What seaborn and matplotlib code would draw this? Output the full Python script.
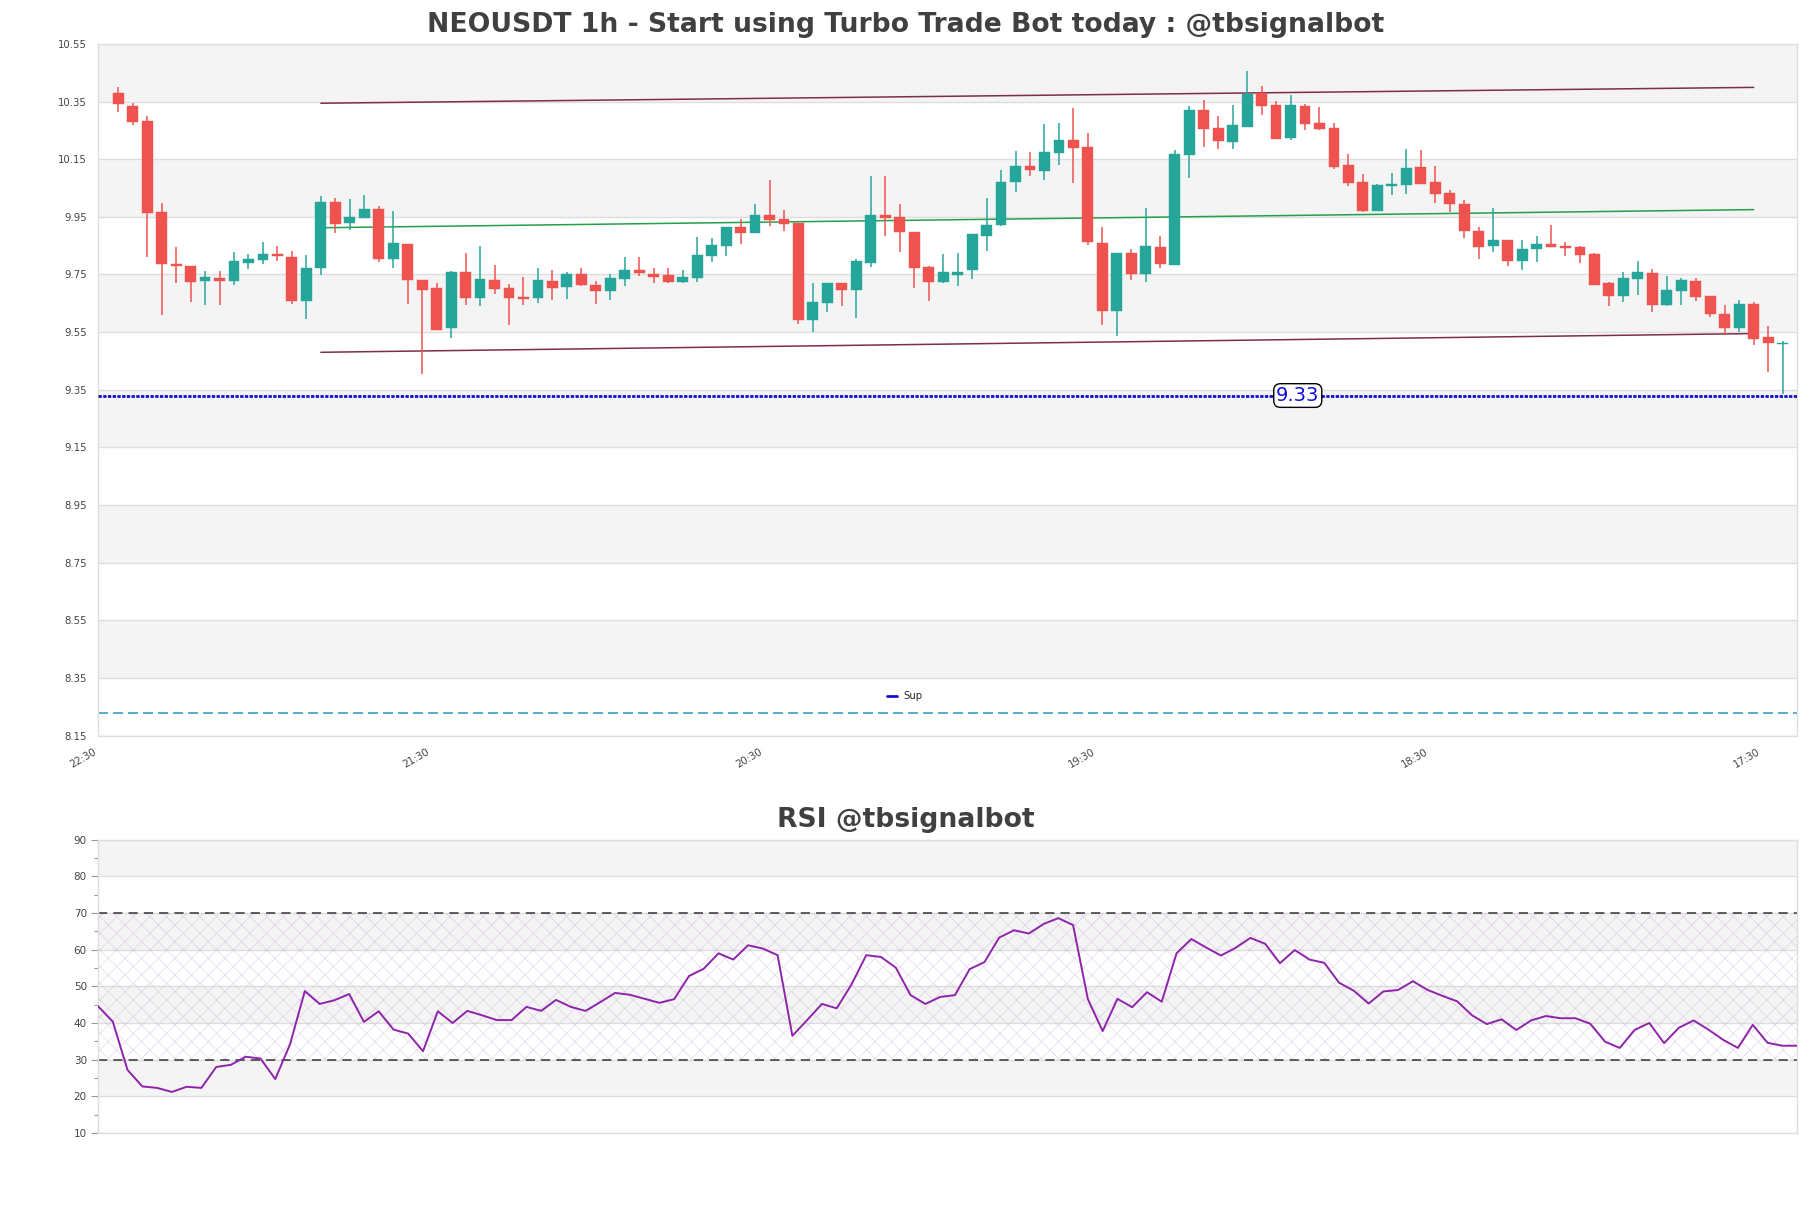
import numpy as np
import pandas as pd
import matplotlib
matplotlib.use("Agg")
import matplotlib.pyplot as plt
import seaborn as sns

# ---------------- data ----------------
opens = [10.379, 10.336, 10.283, 9.965, 9.788, 9.780, 9.726, 9.738, 9.726, 9.789,
         9.799, 9.822, 9.809, 9.657, 9.774, 10.003, 9.928, 9.945, 9.977, 9.805,
         9.855, 9.732, 9.702, 9.563, 9.758, 9.667, 9.732, 9.702, 9.671, 9.667,
         9.727, 9.706, 9.753, 9.715, 9.692, 9.734, 9.767, 9.753, 9.747, 9.723,
         9.737, 9.814, 9.848, 9.913, 9.893, 9.955, 9.941, 9.927, 9.592, 9.651,
         9.719, 9.696, 9.789, 9.955, 9.948, 9.899, 9.775, 9.723, 9.748, 9.764,
         9.885, 9.921, 10.071, 10.125, 10.109, 10.172, 10.217, 10.191, 9.858, 9.622,
         9.823, 9.750, 9.844, 9.782, 10.165, 10.320, 10.257, 10.210, 10.261, 10.379,
         10.337, 10.224, 10.334, 10.275, 10.257, 10.129, 10.070, 9.969, 10.057, 10.060,
         10.122, 10.070, 10.031, 9.996, 9.902, 9.848, 9.871, 9.796, 9.837, 9.857,
         9.848, 9.844, 9.820, 9.719, 9.674, 9.733, 9.756, 9.643, 9.693, 9.729,
         9.674, 9.612, 9.563, 9.647, 9.532, 9.510]
highs = [10.399, 10.344, 10.298, 9.999, 9.846, 9.780, 9.761, 9.761, 9.829, 9.822,
         9.861, 9.850, 9.832, 9.819, 10.022, 10.014, 10.011, 10.025, 9.986, 9.969,
         9.855, 9.732, 9.722, 9.761, 9.825, 9.848, 9.782, 9.718, 9.742, 9.774,
         9.767, 9.757, 9.774, 9.728, 9.750, 9.809, 9.809, 9.774, 9.774, 9.767,
         9.881, 9.875, 9.915, 9.944, 9.993, 10.079, 9.972, 9.930, 9.722, 9.719,
         9.722, 9.802, 10.093, 10.093, 9.993, 9.899, 9.779, 9.822, 9.825, 9.889,
         10.014, 10.111, 10.177, 10.174, 10.271, 10.275, 10.327, 10.240, 9.916, 9.823,
         9.838, 9.979, 9.882, 10.182, 10.335, 10.355, 10.299, 10.337, 10.455, 10.403,
         10.351, 10.372, 10.341, 10.330, 10.275, 10.167, 10.097, 10.063, 10.101, 10.185,
         10.181, 10.125, 10.042, 10.008, 9.913, 9.982, 9.871, 9.871, 9.885, 9.920,
         9.861, 9.848, 9.824, 9.723, 9.760, 9.795, 9.770, 9.744, 9.739, 9.736,
         9.674, 9.643, 9.660, 9.653, 9.570, 9.520]
lows = [10.313, 10.269, 9.809, 9.608, 9.720, 9.653, 9.643, 9.643, 9.712, 9.768,
        9.785, 9.796, 9.649, 9.594, 9.749, 9.893, 9.904, 9.945, 9.793, 9.774,
        9.649, 9.405, 9.556, 9.531, 9.645, 9.639, 9.681, 9.573, 9.643, 9.651,
        9.660, 9.664, 9.711, 9.647, 9.661, 9.710, 9.744, 9.719, 9.720, 9.720,
        9.723, 9.793, 9.814, 9.855, 9.893, 9.919, 9.900, 9.578, 9.551, 9.619,
        9.640, 9.599, 9.775, 9.883, 9.827, 9.703, 9.657, 9.720, 9.710, 9.734,
        9.831, 9.918, 10.035, 10.092, 10.078, 10.130, 10.067, 9.852, 9.574, 9.535,
        9.730, 9.724, 9.771, 9.782, 10.083, 10.192, 10.185, 10.185, 10.261, 10.304,
        10.220, 10.217, 10.252, 10.252, 10.115, 10.057, 9.965, 9.969, 10.024, 10.028,
        10.064, 9.998, 9.965, 9.875, 9.805, 9.827, 9.778, 9.765, 9.792, 9.844,
        9.813, 9.789, 9.712, 9.640, 9.656, 9.678, 9.619, 9.640, 9.643, 9.657,
        9.601, 9.539, 9.549, 9.504, 9.410, 9.335]
closes = [10.342, 10.279, 9.962, 9.785, 9.780, 9.723, 9.741, 9.726, 9.795, 9.802,
          9.822, 9.813, 9.657, 9.774, 10.003, 9.924, 9.949, 9.977, 9.805, 9.858,
          9.730, 9.695, 9.559, 9.759, 9.667, 9.733, 9.698, 9.667, 9.664, 9.730,
          9.703, 9.753, 9.713, 9.692, 9.736, 9.767, 9.755, 9.741, 9.723, 9.740,
          9.819, 9.851, 9.913, 9.893, 9.955, 9.938, 9.925, 9.592, 9.653, 9.719,
          9.696, 9.795, 9.955, 9.945, 9.897, 9.772, 9.723, 9.757, 9.757, 9.889,
          9.923, 10.070, 10.125, 10.112, 10.174, 10.217, 10.189, 9.862, 9.622, 9.823,
          9.750, 9.847, 9.786, 10.167, 10.320, 10.255, 10.213, 10.268, 10.375, 10.335,
          10.220, 10.337, 10.272, 10.254, 10.122, 10.066, 9.969, 10.059, 10.063, 10.118,
          10.064, 10.029, 9.994, 9.900, 9.844, 9.871, 9.796, 9.840, 9.857, 9.844,
          9.841, 9.817, 9.712, 9.674, 9.736, 9.760, 9.643, 9.697, 9.732, 9.671,
          9.612, 9.563, 9.647, 9.527, 9.511, 9.512]

rsi = [44.6, 40.4, 27.2, 22.7, 22.3, 21.2, 22.6, 22.3, 28.0, 28.6,
       30.8, 30.3, 24.7, 34.2, 48.7, 45.2, 46.2, 47.9, 40.3, 43.2,
       38.2, 37.1, 32.3, 43.2, 40.0, 43.3, 42.1, 40.8, 40.8, 44.4,
       43.3, 46.3, 44.4, 43.3, 45.7, 48.2, 47.7, 46.6, 45.5, 46.5,
       52.8, 54.8, 59.0, 57.3, 61.2, 60.3, 58.5, 36.5, 40.8, 45.2,
       44.0, 50.5, 58.5, 58.0, 55.1, 47.6, 45.2, 47.1, 47.6, 54.7,
       56.6, 63.3, 65.3, 64.4, 67.0, 68.6, 66.7, 46.5, 37.8, 46.6,
       44.3, 48.4, 45.8, 59.0, 62.9, 60.6, 58.4, 60.5, 63.2, 61.6,
       56.3, 59.9, 57.3, 56.4, 51.0, 48.8, 45.3, 48.6, 49.0, 51.4,
       49.0, 47.4, 45.9, 42.1, 39.7, 41.0, 38.1, 40.7, 41.9, 41.3,
       41.3, 39.8, 34.9, 33.2, 38.1, 40.0, 34.5, 38.7, 40.7, 38.2,
       35.4, 33.2, 39.5, 34.6, 33.8, 33.8]

x_tick_idx = [0, 23, 46, 69, 92, 115]
x_tick_labels = ["22:30", "21:30", "20:30", "19:30", "18:30", "17:30"]
price_ticks = [8.15, 8.35, 8.55, 8.75, 8.95, 9.15, 9.35, 9.55, 9.75, 9.95, 10.15, 10.35, 10.55]
rsi_ticks = [10, 20, 30, 40, 50, 60, 70, 80, 90]

trend_x = [14, 113]
upper_line = [10.344, 10.399]
mid_line = [9.912, 9.975]
lower_line = [9.480, 9.545]
support_level = 9.33
low_level = 8.23
label_x = 81.5

title = "NEOUSDT 1h - Start using Turbo Trade Bot today : @tbsignalbot"
rsi_title = "RSI @tbsignalbot"

# ---------------- style ----------------
sns.set_theme(style="white")
plt.rcParams["font.family"] = ["DejaVu Sans"]
plt.rcParams["hatch.linewidth"] = 0.5

UP = "#26a69a"
DOWN = "#ef5350"
BAND = "#f4f4f4"
GRID = "#dedede"
TXT = "#444444"

df = pd.DataFrame({"open": opens, "high": highs, "low": lows, "close": closes})
df["x"] = np.arange(len(df))
df["up"] = df["close"] >= df["open"]
df["color"] = np.where(df["up"], UP, DOWN)
df["bottom"] = df[["open", "close"]].min(axis=1)
df["height"] = (df["close"] - df["open"]).abs().clip(lower=0.003)

fig = plt.figure(figsize=(18.11, 12.08), dpi=100)
ax = fig.add_axes([0.0541, 0.391, 0.9382, 0.5727])
ax2 = fig.add_axes([0.0541, 0.0621, 0.9382, 0.2428])

# background bands
for k in range(len(price_ticks) - 1):
    if k % 2 == 1:
        ax.axhspan(price_ticks[k], price_ticks[k + 1], color=BAND, zorder=0, lw=0)
for k in range(len(rsi_ticks) - 1):
    if k % 2 == 1:
        ax2.axhspan(rsi_ticks[k], rsi_ticks[k + 1], color=BAND, zorder=0, lw=0)

# candles
ax.vlines(df["x"], df["low"], df["high"], colors=df["color"], lw=1.1, zorder=3)
ax.bar(df["x"], df["height"], bottom=df["bottom"], width=0.75,
       color=df["color"], edgecolor=df["color"], lw=0.3, zorder=4)

# trend lines
sns.lineplot(x=trend_x, y=upper_line, ax=ax, color="#7d2f45", lw=1.1, zorder=2)
sns.lineplot(x=trend_x, y=lower_line, ax=ax, color="#7d2f45", lw=1.1, zorder=2)
sns.lineplot(x=trend_x, y=mid_line, ax=ax, color="#23a04a", lw=1.1, zorder=2)

# levels
ax.axhline(support_level, color="#1010cc", lw=2.0, ls=(0, (1.2, 0.5)), zorder=5, label="Sup")
ax.axhline(low_level, color="#3a9fc4", lw=1.2, ls=(0, (6, 3)), zorder=2)
ax.text(label_x, support_level, f"{support_level:.2f}", color="#1010dd", fontsize=14,
        ha="center", va="center", zorder=6,
        bbox=dict(boxstyle="round,pad=0.12,rounding_size=0.35", fc="white", ec="black", lw=1))

ax.set_xlim(-1, len(df))
ax.set_ylim(price_ticks[0], price_ticks[-1])
ax.set_yticks(price_ticks)
ax.set_yticklabels([f"{t:.2f}" for t in price_ticks], fontsize=7.3, color=TXT)
ax.set_xticks([i - 1.4 for i in x_tick_idx])
ax.set_xticklabels(x_tick_labels, rotation=30, ha="right", fontsize=7.3, color=TXT)
ax.tick_params(axis="both", length=0, pad=8)
ax.grid(axis="y", color=GRID, lw=1, zorder=1)
ax.set_axisbelow(True)
for s in ax.spines.values():
    s.set_color(GRID)
    s.set_linewidth(1)
ax.set_facecolor("white")
ax.set_xlabel("")
ax.set_ylabel("")
leg = ax.legend(loc="center", bbox_to_anchor=(0.4746, 0.0567), frameon=False,
                fontsize=7.3, handlelength=1.0, handletextpad=0.6)
for h in leg.get_lines():
    h.set_linestyle("-")

# RSI
rsi_x = np.arange(len(rsi))
ax2.fill_between([0, len(rsi) - 1], 30, 70, facecolor="none", edgecolor="#b58fc9",
                 hatch="xx", alpha=0.35, lw=0, zorder=1)
ax2.axhline(70, color="#333333", lw=1.1, ls=(0, (6, 4)), zorder=2)
ax2.axhline(30, color="#333333", lw=1.1, ls=(0, (6, 4)), zorder=2)
sns.lineplot(x=rsi_x, y=rsi, ax=ax2, color="#8e24aa", lw=1.4, zorder=3)
ax2.set_xlim(0, len(rsi) - 1)
ax2.set_ylim(rsi_ticks[0], rsi_ticks[-1])
ax2.set_yticks(rsi_ticks)
ax2.set_yticks([t + 5 for t in rsi_ticks[:-1]], minor=True)
ax2.set_yticklabels([str(t) for t in rsi_ticks], fontsize=7.5, color=TXT)
ax2.set_xticks([])
ax2.tick_params(axis="y", which="major", length=5, width=0.8, color="#999999", pad=3, left=True)
ax2.tick_params(axis="y", which="minor", length=3, width=0.8, color="#999999", left=True)
ax2.grid(axis="y", color=GRID, lw=1, zorder=0)
ax2.set_axisbelow(True)
for s in ax2.spines.values():
    s.set_color(GRID)
    s.set_linewidth(1)
ax2.set_xlabel("")
ax2.set_ylabel("")

fig.text(0.5, 0.979, title, ha="center", va="center", fontsize=19.2, fontweight="bold", color="#404040")
fig.text(0.5, 0.321, rsi_title, ha="center", va="center", fontsize=19.2, fontweight="bold", color="#404040")

fig.savefig("out.png", dpi=100)
